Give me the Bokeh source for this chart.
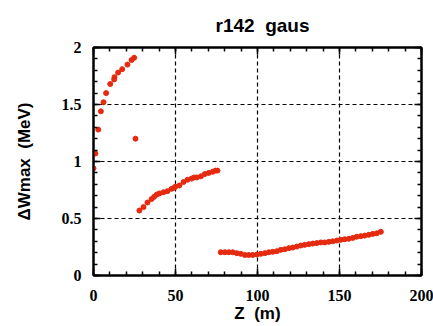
from bokeh.plotting import figure
from bokeh.models import (LinearAxis, FixedTicker, Range1d, Title, ColumnDataSource)
from bokeh.embed import file_html
from bokeh.resources import INLINE

# Data
z_seg1 = [0.0, 1.2, 2.9, 4.5, 6.1, 7.7, 10.2, 12.6, 12.8, 15.0, 17.5, 20.7, 23.2, 24.8, 25.6]
w_seg1 = [0.94, 1.07, 1.28, 1.44, 1.52, 1.60, 1.68, 1.72, 1.74, 1.78, 1.81, 1.85, 1.89, 1.91, 1.20]

z_seg2 = [28.0, 30.5, 32.9, 35.4, 37.0, 38.6, 40.2, 42.7, 45.1, 47.6, 49.2, 50.0,
          52.4, 54.9, 57.3, 59.8, 61.4, 63.0, 65.5, 67.9, 70.3, 72.7, 74.4, 75.6]
w_seg2 = [0.57, 0.60, 0.64, 0.67, 0.69, 0.71, 0.72, 0.73, 0.74, 0.76, 0.77, 0.78,
          0.79, 0.82, 0.84, 0.85, 0.86, 0.86, 0.87, 0.89, 0.90, 0.91, 0.92, 0.92]

z_seg3 = [77.6, 80.1, 82.5, 84.9, 87.4, 89.8, 92.3, 94.7, 97.1, 99.6, 102.0, 104.5,
          106.9, 109.3, 111.8, 114.2, 116.6, 119.1, 121.5, 124.0, 126.4, 128.8, 131.3,
          133.7, 136.2, 138.6, 141.0, 143.5, 145.9, 148.4, 150.8, 153.2, 155.7, 158.1,
          160.5, 163.0, 165.4, 167.9, 170.3, 172.7, 175.2]
w_seg3 = [0.204, 0.204, 0.204, 0.204, 0.196, 0.190, 0.180, 0.180, 0.180, 0.184, 0.190, 0.196,
          0.204, 0.208, 0.213, 0.225, 0.230, 0.240, 0.245, 0.254, 0.263, 0.269, 0.275,
          0.280, 0.284, 0.290, 0.290, 0.295, 0.300, 0.307, 0.313, 0.318, 0.322, 0.330,
          0.340, 0.345, 0.350, 0.357, 0.365, 0.370, 0.383]

x_ticks = [0, 50, 100, 150, 200]
y_ticks = [0, 0.5, 1, 1.5, 2]
y_tick_labels = {0: "0", 0.5: "0.5", 1: "1", 1.5: "1.5", 2: "2"}

title_text = "r142\u00a0\u00a0gaus"
x_label = "Z\u00a0\u00a0(m)"
y_label = "ΔWmax\u00a0\u00a0(MeV)"

z_all = z_seg1 + z_seg2 + z_seg3
w_all = w_seg1 + w_seg2 + w_seg3
src = ColumnDataSource(dict(z=z_all, w=w_all))

p = figure(width=433, height=326, output_backend="svg", toolbar_location=None,
           x_range=Range1d(0, 200), y_range=Range1d(0, 2),
           x_axis_location=None, y_axis_location=None,
           min_border_left=93, min_border_right=12, min_border_top=46, min_border_bottom=51)
p.background_fill_color = "white"
p.border_fill_color = "white"
p.outline_line_color = "black"
p.outline_line_width = 2

xt = FixedTicker(ticks=x_ticks, minor_ticks=list(range(0, 201, 10)))
yt = FixedTicker(ticks=y_ticks, minor_ticks=[i / 10 for i in range(0, 21)])

def style_axis(ax, labels=True):
    ax.axis_line_color = "black"
    ax.axis_line_width = 2
    ax.major_tick_in = 7
    ax.major_tick_out = 0
    ax.minor_tick_in = 4
    ax.minor_tick_out = 0
    ax.major_tick_line_width = 1.5
    ax.minor_tick_line_width = 1.5
    ax.major_tick_line_color = "black"
    ax.minor_tick_line_color = "black"
    if labels:
        ax.major_label_text_font = "Liberation Serif"
        ax.major_label_text_font_style = "bold"
        ax.major_label_text_font_size = "16px"
        ax.major_label_text_color = "black"
        ax.axis_label_text_font = "Liberation Sans"
        ax.axis_label_text_font_style = "bold"
        ax.axis_label_text_font_size = "17px"
        ax.axis_label_text_color = "black"
    else:
        ax.major_label_text_color = None

xb = LinearAxis(ticker=xt, axis_label=x_label)
style_axis(xb)
xb.major_label_standoff = 14
xb.axis_label_standoff = 0
p.add_layout(xb, "below")

yl = LinearAxis(ticker=yt, axis_label=y_label)
style_axis(yl)
yl.major_label_overrides = y_tick_labels
yl.major_label_standoff = 12
yl.axis_label_standoff = 25
p.add_layout(yl, "left")

xa = LinearAxis(ticker=xt)
style_axis(xa, labels=False)
p.add_layout(xa, "above")

yr = LinearAxis(ticker=yt)
style_axis(yr, labels=False)
p.add_layout(yr, "right")

p.xgrid.ticker = FixedTicker(ticks=[50, 100, 150])
p.ygrid.ticker = FixedTicker(ticks=[0.5, 1, 1.5])
for g in (p.xgrid, p.ygrid):
    g.grid_line_color = "black"
    g.grid_line_dash = "4 3"
    g.grid_line_width = 1.2

p.title = Title(text=title_text, align="left", text_font="Liberation Sans",
                text_color="black", text_font_style="bold", text_font_size="19px",
                offset=122, standoff=24)

p.scatter("z", "w", source=src, size=5, color="#e62a10", line_color="#e62a10")

open("out.html", "w").write(file_html(p, INLINE))
